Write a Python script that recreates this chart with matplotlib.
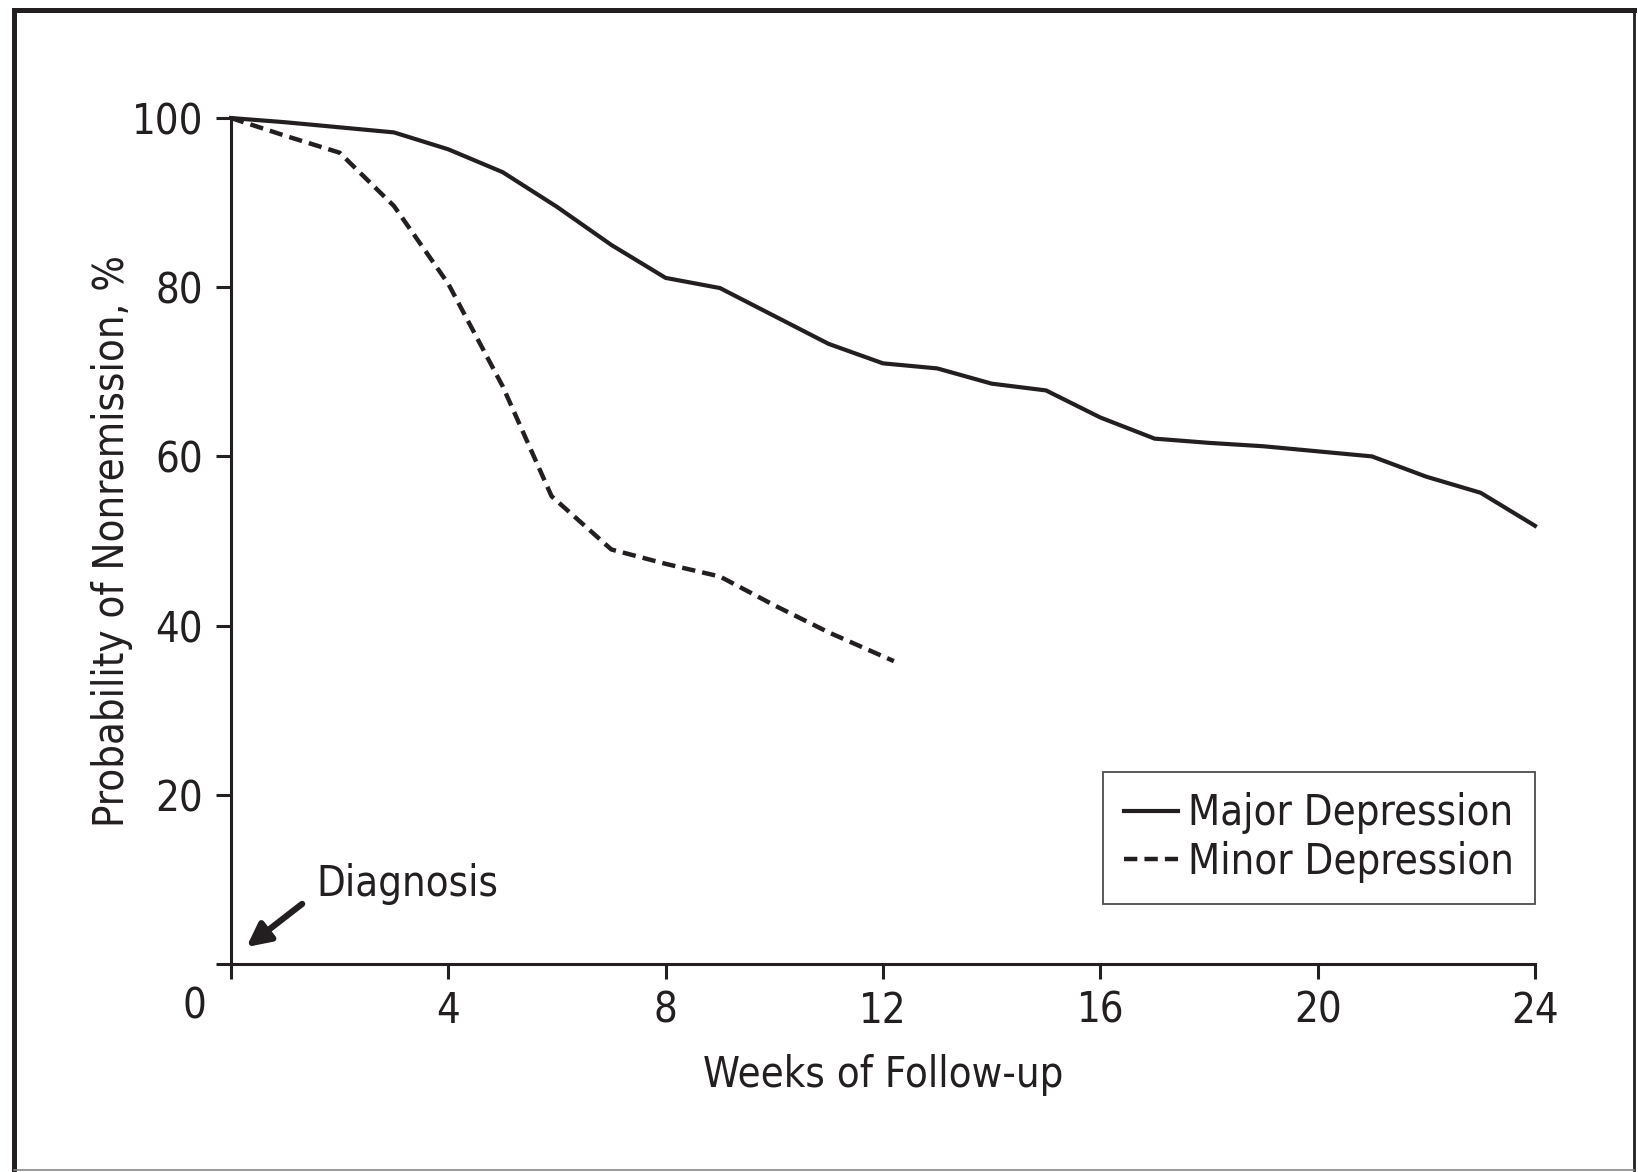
import numpy as np
import matplotlib.pyplot as plt
from matplotlib.lines import Line2D

# values (weeks, % nonremission)
weeks_major = [0, 1, 2, 3, 4, 5, 6, 7, 8, 9, 10, 11, 12,
               13, 14, 15, 16, 17, 18, 19, 20, 21, 22, 23, 24]
major = [100, 99.5, 98.9, 98.3, 96.3, 93.6, 89.5, 85.0, 81.1, 79.9, 76.6, 73.3, 71.0,
         70.4, 68.6, 67.8, 64.6, 62.1, 61.6, 61.2, 60.6, 60.0, 57.6, 55.7, 51.8]

weeks_minor = [0, 1, 2, 3, 4, 5, 5.9, 7, 8, 9, 10, 11, 12.2]
minor = [100, 97.9, 95.9, 89.6, 80.4, 68.3, 55.3, 49.0, 47.3, 45.8, 42.4, 39.2, 35.8]

x_ticks = [0, 4, 8, 12, 16, 20, 24]
y_ticks = [0, 20, 40, 60, 80, 100]

ink = '#231f20'
fs = 30
plt.rcParams['font.family'] = ['DejaVu Sans']
plt.rcParams['font.stretch'] = 'condensed'

fig = plt.figure(figsize=(16.38, 11.72), dpi=100)
ax = fig.add_axes([0.1410, 0.1775, 0.7961, 0.7218])

ax.plot(weeks_major, major, color=ink, lw=3.0, label='Major Depression', clip_on=False)
ax.plot(weeks_minor, minor, color=ink, lw=3.2, ls=(0, (3, 1.6)), label='Minor Depression', clip_on=False)

ax.set_xlim(0, 24)
ax.set_ylim(0, 100)
for s in ['top', 'right']:
    ax.spines[s].set_visible(False)
for s in ['left', 'bottom']:
    ax.spines[s].set_linewidth(2.2)
    ax.spines[s].set_color(ink)

ax.set_xticks(x_ticks)
ax.set_xticklabels([''] + [str(t) for t in x_ticks[1:]])
ax.set_yticks(y_ticks)
ax.set_yticklabels([''] + [str(t) for t in y_ticks[1:]])
ax.tick_params(direction='out', length=10.5, width=2.2, color=ink, labelsize=fs, labelcolor=ink)
ax.tick_params(axis='x', pad=8)
ax.tick_params(axis='y', pad=9.5)
# shared zero at the corner
ax.text(-0.68, -5.0, '0', fontsize=fs, color=ink, ha='center', va='center', clip_on=False)

ax.set_xlabel('Weeks of Follow-up', fontsize=fs, color=ink, labelpad=16)
ax.set_ylabel('Probability of Nonremission, %', fontsize=fs, color=ink, labelpad=-1)

ax.annotate('', xy=(0.285, 2.0), xytext=(1.31, 7.1),
            arrowprops=dict(arrowstyle='-|>', lw=4.5, color=ink, mutation_scale=35,
                            shrinkA=0, shrinkB=0))
ax.text(1.57, 9.45, 'Diagnosis', fontsize=fs, color=ink, ha='left', va='center')

leg = ax.legend(loc='lower right', bbox_to_anchor=(1.0, 0.0714), borderaxespad=0,
                fancybox=False, edgecolor=ink, handlelength=1.3, handletextpad=0.25,
                labelspacing=0.15, borderpad=0.5, fontsize=fs)
leg.get_frame().set_linewidth(1.3)
for t in leg.get_texts():
    t.set_color(ink)

# outer frame of the figure
fig.add_artist(Line2D([0.0085, 0.9976], [0.9915, 0.9915], transform=fig.transFigure, color=ink, lw=3.6))
fig.add_artist(Line2D([0.0085, 0.0085], [0.0017, 0.9915], transform=fig.transFigure, color=ink, lw=3.6))
fig.add_artist(Line2D([0.9976, 0.9976], [0.0017, 0.9915], transform=fig.transFigure, color=ink, lw=2.0))
fig.add_artist(Line2D([0.0085, 0.9976], [0.0017, 0.0017], transform=fig.transFigure, color='#888888', lw=1.2))

fig.savefig('out.png', dpi=100)
